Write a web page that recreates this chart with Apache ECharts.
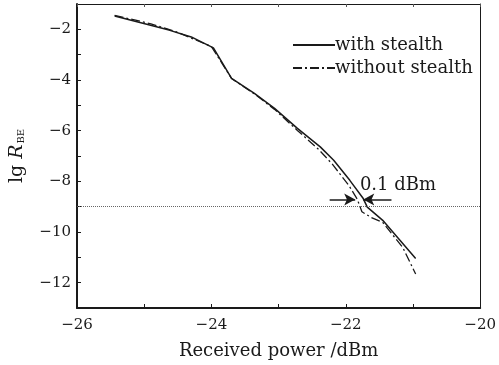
<!DOCTYPE html>
<html>
<head>
<meta charset="utf-8">
<script src="https://cdn.jsdelivr.net/npm/echarts@6/dist/echarts.min.js"></script>
<style>
  html, body { margin: 0; padding: 0; background: #fff; }
  #chartdiv { width: 499px; height: 365px; }
</style>
</head>
<body>
<div id="chartdiv"></div>
<script>
// received power (dBm) / lg R_BE
const withStealth = [
  [-25.44, -1.47], [-24.63, -2.03], [-24.3, -2.3], [-23.97, -2.73],
  [-23.70, -3.94], [-23.36, -4.53], [-23.06, -5.12], [-22.72, -5.91],
  [-22.38, -6.64], [-22.18, -7.17], [-21.94, -7.96], [-21.74, -8.68],
  [-21.68, -9.02], [-21.45, -9.54], [-20.96, -11.05]
];
const withoutStealth = [
  [-25.44, -1.45], [-24.9, -1.78], [-24.5, -2.12], [-24.0, -2.68],
  [-23.70, -3.94], [-23.36, -4.55], [-23.06, -5.16], [-22.72, -5.99],
  [-22.40, -6.75], [-22.20, -7.32], [-21.95, -8.18], [-21.83, -8.70],
  [-21.76, -9.20], [-21.62, -9.43], [-21.45, -9.62], [-21.15, -10.62],
  [-20.96, -11.66]
];
const threshold = -9;
const arrowLeft = [[-22.24, -8.72], [-21.86, -8.72]];
const arrowRight = [[-21.32, -8.72], [-21.74, -8.72]];
const noteText = "0.1 dBm";
const notePos = [-21.79, -8.15];

const FONT = "DejaVu Serif";
const INK = "#1a1a1a";

function minus(v) {
  return v < 0 ? "\u2212" + Math.abs(v) : String(v);
}

const chart = echarts.init(document.getElementById("chartdiv"));

const option = {
  backgroundColor: "#fff",
  animation: false,
  grid: { left: 73, right: 17, top: 4, bottom: 57 },
  legend: {
    data: ["with stealth", "without stealth"],
    orient: "vertical",
    left: 287,
    top: 31,
    itemWidth: 42,
    itemHeight: 14,
    itemGap: 5,
    itemStyle: { opacity: 0 },
    textStyle: { fontFamily: FONT, fontSize: 18, color: INK, padding: [0, 0, 0, -5] }
  },
  xAxis: [
    {
      type: "value",
      min: -26,
      max: -20,
      interval: 1,
      name: "Received power /dBm",
      nameLocation: "middle",
      nameGap: 34,
      nameTextStyle: { fontFamily: FONT, fontSize: 18, color: INK },
      axisLine: { lineStyle: { color: INK, width: 2 } },
      axisTick: { inside: true, length: 4, lineStyle: { color: INK } },
      axisLabel: {
        margin: 10,
        fontFamily: FONT,
        fontSize: 15,
        color: INK,
        formatter: v => (v % 2 === 0 ? minus(v) : "")
      },
      splitLine: { show: false }
    },
    {
      type: "value",
      position: "top",
      min: -26,
      max: -20,
      interval: 1,
      axisLine: { lineStyle: { color: INK, width: 1 } },
      axisTick: { inside: true, length: 3, lineStyle: { color: "#555" } },
      axisLabel: { show: false },
      splitLine: { show: false }
    }
  ],
  yAxis: [
    {
      type: "value",
      min: -13,
      max: -1,
      interval: 1,
      name: "{a|lg }{i|R}{s|BE}",
      nameLocation: "middle",
      nameGap: 50,
      nameTextStyle: {
        rich: {
          a: { fontFamily: FONT, fontSize: 19, color: INK },
          i: { fontFamily: FONT, fontSize: 19, fontStyle: "italic", color: INK },
          s: { fontFamily: FONT, fontSize: 10, color: INK, padding: [8, 0, 0, 1] }
        }
      },
      axisLine: { lineStyle: { color: INK, width: 2 } },
      axisTick: { inside: true, length: 4, lineStyle: { color: INK } },
      axisLabel: {
        margin: 6,
        fontFamily: FONT,
        fontSize: 15,
        color: INK,
        formatter: v => (v % 2 === 0 ? minus(v) : "")
      },
      splitLine: { show: false }
    },
    {
      type: "value",
      position: "right",
      min: -13,
      max: -1,
      interval: 1,
      axisLine: { show: true, lineStyle: { color: INK, width: 1 } },
      axisTick: { show: false },
      axisLabel: { show: false },
      splitLine: { show: false }
    }
  ],
  series: [
    {
      name: "with stealth",
      type: "line",
      data: withStealth,
      symbol: "none",
      lineStyle: { color: INK, width: 1.5, type: "solid" },
      itemStyle: { color: INK },
      markLine: {
        silent: true,
        symbol: "none",
        label: { show: false },
        lineStyle: { color: "#666", width: 1, type: [1, 1] },
        data: [{ yAxis: threshold }]
      }
    },
    {
      name: "without stealth",
      type: "line",
      data: withoutStealth,
      symbol: "none",
      lineStyle: { color: INK, width: 1.3, type: [9, 3, 2, 3] },
      itemStyle: { color: INK }
    },
    {
      name: "note",
      type: "line",
      data: [],
      markLine: {
        silent: true,
        symbol: ["none", "arrow"],
        symbolSize: [9, 11],
        label: { show: false },
        lineStyle: { color: INK, width: 1.5, type: "solid" },
        data: [
          [{ coord: arrowLeft[0] }, { coord: arrowLeft[1] }],
          [{ coord: arrowRight[0] }, { coord: arrowRight[1] }]
        ]
      }
    },
    {
      name: "noteText",
      type: "scatter",
      data: [notePos],
      symbolSize: 0,
      silent: true,
      itemStyle: { opacity: 1, color: INK },
      label: {
        show: true,
        position: "right",
        distance: 0,
        formatter: noteText,
        fontFamily: FONT,
        fontSize: 18,
        color: INK
      }
    }
  ]
};

chart.setOption(option);
</script>
</body>
</html>
